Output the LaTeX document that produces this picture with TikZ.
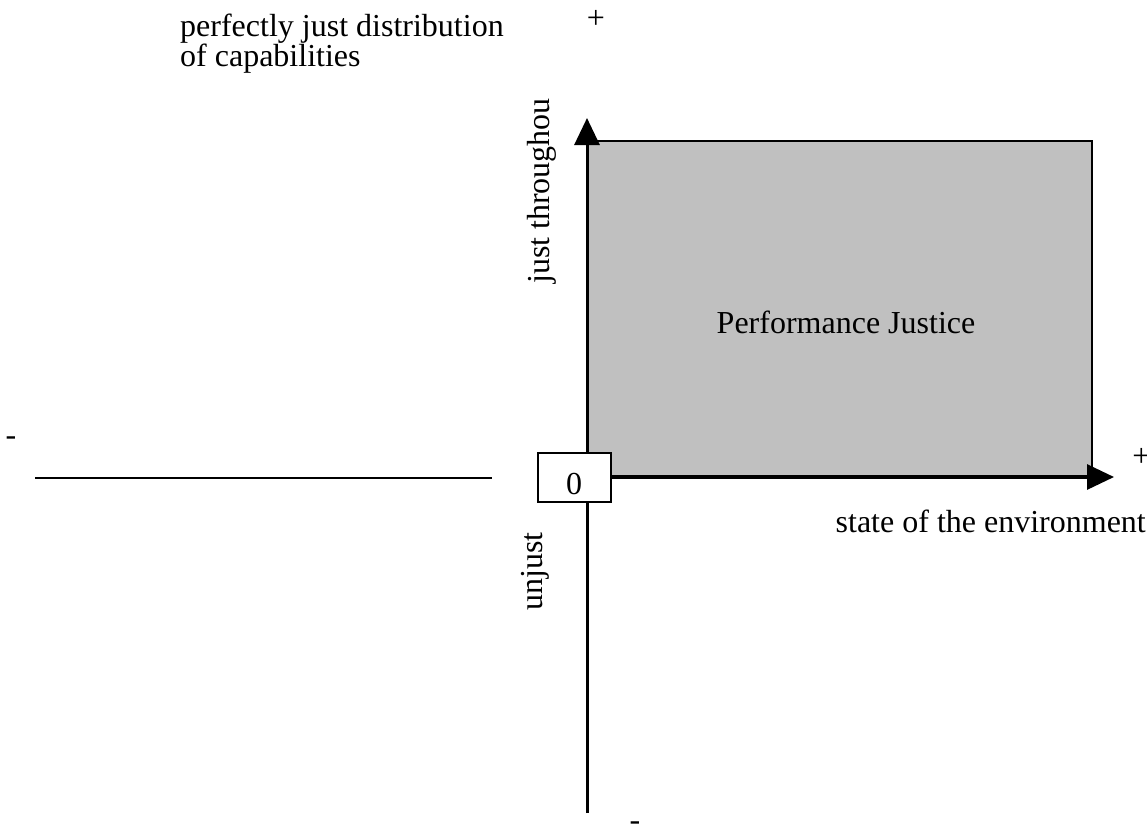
\documentclass[tikz,border=0pt]{standalone}
\usepackage{fontspec}
\setmainfont{Liberation Serif}
\usetikzlibrary{arrows.meta}
\begin{document}
\begin{tikzpicture}[x=1pt,y=-1pt,
  txt/.style={inner sep=0pt,font=\fontsize{32}{30}\selectfont},
  axis/.style={line width=3pt,-{Triangle[length=27pt,width=25pt]}},
  region/.style={draw=black,line width=2pt,fill={rgb,255:red,192;green,192;blue,192}},
  zerobox/.style={draw=black,line width=2pt,fill=white,inner sep=0pt,minimum width=73pt,minimum height=49pt,text height=33pt,text depth=0pt,font=\fontsize{32}{30}\selectfont}]
\useasboundingbox (0,0) rectangle (1147,825);
% shaded region
\node (pj) [region,anchor=south west,minimum width=504pt,minimum height=335pt,inner sep=0pt] at (587,477) {};
\node (pjtext) [txt,anchor=base] at (846,333) {Performance Justice};
% axes coordinates
\coordinate (O) at (587,477);
\coordinate (ytop) at (587,118);
\coordinate (ybot) at (587,813);
\coordinate (xright) at (1114,477);
\coordinate (lstart) at (35,478);
\coordinate (lend) at (492,478);
\draw[axis] (ybot) -- (ytop);
\draw[axis] (O) -- (xright);
\draw[line width=2.5pt] (lstart) -- (lend);
% origin box
\node (zero) [zerobox] at (574,477.5) {0};
% texts
\node (perf) [txt,anchor=north west,align=left] at (180,14) {perfectly just distribution\\of capabilities};
\node (plustop) [txt,anchor=base] at (596,28) {+};
\node (plusright) [txt,anchor=base] at (1141.5,466) {+};
\node (minusleft) [txt,anchor=base] at (11,445) {-};
\node (minusbot) [txt,anchor=base] at (635,830) {-};
\node (env) [txt,anchor=base east] at (1146,532) {state of the environment};
\node (just) [txt,anchor=base west,rotate=90] at (549,284) {just throughou};
\node (unjust) [txt,anchor=base west,rotate=90] at (542,611) {unjust};
\end{tikzpicture}
\end{document}
